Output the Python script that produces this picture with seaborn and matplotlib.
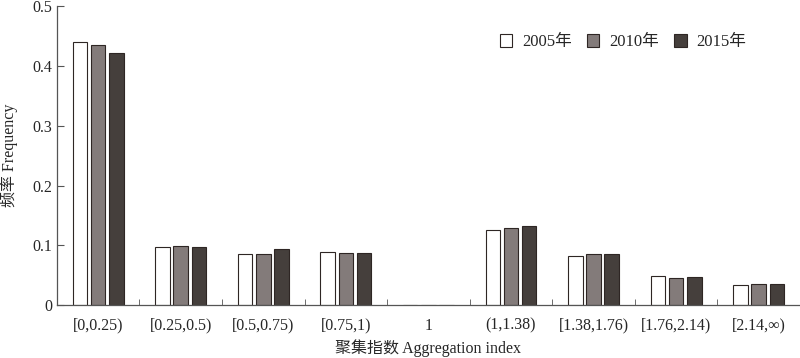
import pandas as pd
import matplotlib.pyplot as plt
import seaborn as sns
import numpy as np

# Categories and frequency values
categories = ["[0,0.25)", "[0.25,0.5)", "[0.5,0.75)", "[0.75,1)", "1",
              "(1,1.38)", "[1.38,1.76)", "[1.76,2.14)", "[2.14,\u221e)"]
years = ["2005年", "2010年", "2015年"]
freq_2005 = [0.441, 0.097, 0.085, 0.088, 0.0, 0.125, 0.0815, 0.049, 0.033]
freq_2010 = [0.436, 0.0987, 0.086, 0.087, 0.0, 0.129, 0.086, 0.045, 0.035]
freq_2015 = [0.422, 0.0975, 0.093, 0.087, 0.0, 0.133, 0.0855, 0.047, 0.035]
colors = ["#ffffff", "#847a78", "#473e3a"]

df = pd.DataFrame({
    "cat": categories * 3,
    "year": [years[0]] * 9 + [years[1]] * 9 + [years[2]] * 9,
    "freq": freq_2005 + freq_2010 + freq_2015,
})

sns.set_style("ticks")
plt.rcParams["font.family"] = ["Liberation Serif", "Noto Sans CJK SC"]
plt.rcParams["font.size"] = 11

fig = plt.figure(figsize=(8, 3.58), dpi=100)
ax = fig.add_axes([0.071, 0.148, 0.929, 0.834])

sns.barplot(data=df, x="cat", y="freq", hue="year", order=categories,
            hue_order=years, palette=colors, width=0.66, gap=0.2,
            edgecolor="#2e2624", linewidth=0.8, ax=ax)

ax.set_ylim(0, 0.5)
ax.set_xlim(-0.5, len(categories) - 0.5)
ax.set_yticks([0, 0.1, 0.2, 0.3, 0.4, 0.5])
ax.set_yticklabels(["0", "0.1", "0.2", "0.3", "0.4", "0.5"], fontsize=11.5)
ax.set_xticks(range(len(categories)))
ax.set_xticklabels(categories, fontsize=11.5)
ax.set_xticks(np.arange(-0.5, len(categories), 1), minor=True)
ax.tick_params(axis="x", which="major", length=0, pad=9)
ax.tick_params(axis="x", which="minor", direction="in", length=4, color="#555555")
ax.tick_params(axis="y", direction="in", length=5, color="#555555")
for s in ["top", "right"]:
    ax.spines[s].set_visible(False)
for s in ["left", "bottom"]:
    ax.spines[s].set_color("#555555")
    ax.spines[s].set_linewidth(0.9)

ax.set_xlabel("聚集指数 Aggregation index", fontsize=11.5, labelpad=4)
ax.set_ylabel("频率 Frequency", fontsize=11.5, labelpad=10)

ax.legend(loc="center", bbox_to_anchor=(0.762, 0.88), ncol=3, frameon=False,
          handlelength=0.75, handleheight=0.75, handletextpad=0.6,
          columnspacing=0.9, fontsize=12)

fig.savefig("out.png", dpi=100)
